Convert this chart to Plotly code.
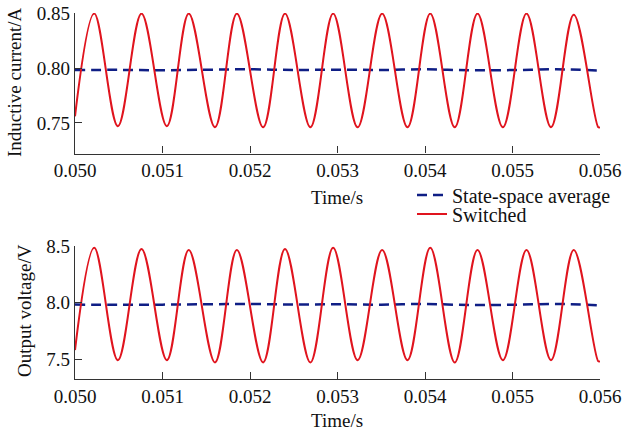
import plotly.graph_objects as go
from plotly.subplots import make_subplots

# Time instants of the extrema of the switched waveform (s)
t_switched = [0.05000, 0.05022, 0.05049, 0.05076, 0.05105, 0.05130, 0.05160, 0.05185,
              0.05215, 0.05240, 0.05269, 0.05295, 0.05323, 0.05351, 0.05380, 0.05406,
              0.05434, 0.05460, 0.05489, 0.05516, 0.05544, 0.05570, 0.05598, 0.05600]

# Inductive current, switched model (A)
i_switched = [0.756, 0.850, 0.747, 0.850, 0.747, 0.850, 0.746, 0.850,
              0.746, 0.850, 0.746, 0.850, 0.746, 0.850, 0.746, 0.850,
              0.746, 0.850, 0.746, 0.850, 0.746, 0.849, 0.746, 0.746]

# Output voltage, switched model (V)
v_switched = [7.58, 8.49, 7.49, 8.48, 7.49, 8.47, 7.47, 8.47,
              7.47, 8.48, 7.47, 8.49, 7.49, 8.47, 7.49, 8.49,
              7.47, 8.47, 7.49, 8.47, 7.49, 8.47, 7.48, 7.48]

# State-space average model
t_average = [0.0500, 0.0505, 0.0510, 0.0515, 0.0520, 0.0525, 0.0530,
             0.0535, 0.0540, 0.0545, 0.0550, 0.0555, 0.0560]
i_average = [0.7983, 0.7985, 0.7981, 0.7986, 0.7990, 0.7984, 0.7987,
             0.7984, 0.7990, 0.7981, 0.7983, 0.7990, 0.7979]
v_average = [7.985, 7.982, 7.984, 7.987, 7.990, 7.985, 7.987,
             7.984, 7.990, 7.981, 7.983, 7.990, 7.978]

x_ticks = [0.050, 0.051, 0.052, 0.053, 0.054, 0.055, 0.056]
i_ticks = [0.75, 0.80, 0.85]
v_ticks = [7.5, 8.0, 8.5]

RED = "#e0141e"
BLUE = "#0f1e85"
FONT = "Liberation Serif"
AXC = "#333333"

fig = make_subplots(rows=2, cols=1)

fig.add_trace(go.Scatter(x=t_average, y=i_average, mode="lines", name="State-space average",
                         line=dict(color=BLUE, width=2.5, dash="10px,6px", shape="spline"),
                         legend="legend"), row=1, col=1)
fig.add_trace(go.Scatter(x=t_switched, y=i_switched, mode="lines", name="Switched",
                         line=dict(color=RED, width=2, shape="spline", smoothing=1.0),
                         legend="legend2"), row=1, col=1)
fig.add_trace(go.Scatter(x=t_average, y=v_average, mode="lines", showlegend=False,
                         line=dict(color=BLUE, width=2.5, dash="10px,6px", shape="spline")),
              row=2, col=1)
fig.add_trace(go.Scatter(x=t_switched, y=v_switched, mode="lines", showlegend=False,
                         line=dict(color=RED, width=2, shape="spline", smoothing=1.0)),
              row=2, col=1)

H = 436.0
L, R = 75, 23
PW = 623 - L - R

def py(p):
    return 1 - p / H

def px(p):
    return (p - L) / PW

axis_common = dict(showline=True, linecolor=AXC, linewidth=1.2, ticks="inside", ticklen=7,
                   tickcolor=AXC, tickwidth=1.2, showgrid=False, zeroline=False,
                   automargin=False,
                   tickfont=dict(family=FONT, size=19, color="#111111"))

fig.update_xaxes(range=[0.050, 0.056], tickvals=x_ticks, tickformat=".3f", **axis_common)
fig.update_yaxes(**axis_common)
fig.update_layout(
    xaxis=dict(domain=[0, 1]),
    xaxis2=dict(domain=[0, 1]),
    yaxis=dict(domain=[py(153.5), py(13)], range=[0.722, 0.8505], tickvals=i_ticks, tickformat=".2f"),
    yaxis2=dict(domain=[py(379), py(246)], range=[7.322, 8.506], tickvals=v_ticks, tickformat=".1f"),
)

annots = [
    dict(text="Time/s", x=px(337), y=py(197)),
    dict(text="Time/s", x=px(337), y=py(420)),
    dict(text="Inductive current/A", x=px(15), y=py(82), textangle=-90),
    dict(text="Output voltage/V", x=px(24), y=py(311), textangle=-90),
]
for a in annots:
    fig.add_annotation(xref="paper", yref="paper", showarrow=False, xanchor="center",
                       yanchor="middle", font=dict(family=FONT, size=19, color="#111111"), **a)

legend_font = dict(family=FONT, size=20, color="#111111")
fig.update_layout(
    width=623, height=436,
    margin=dict(l=L, r=R, t=0, b=0, autoexpand=False),
    paper_bgcolor="white", plot_bgcolor="white",
    legend=dict(x=px(412), y=py(195), xanchor="left", yanchor="middle", font=legend_font,
                bgcolor="rgba(0,0,0,0)", borderwidth=0),
    legend2=dict(x=px(412), y=py(214), xanchor="left", yanchor="middle", font=legend_font,
                 bgcolor="rgba(0,0,0,0)", borderwidth=0),
)

fig.write_html("out.html", config={"displayModeBar": False},
               post_script="document.body.style.margin='0';document.body.style.overflow='hidden';")
